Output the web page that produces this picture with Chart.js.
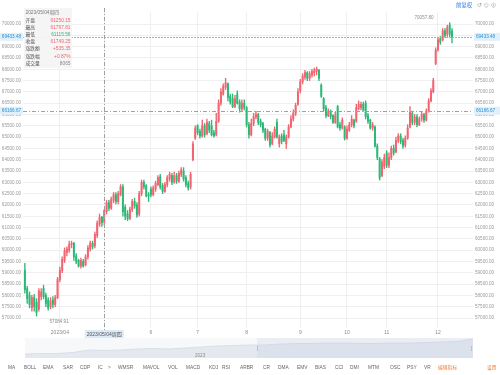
<!DOCTYPE html>
<html lang="zh">
<head>
  <meta charset="UTF-8">
  <title>K线图</title>
  <script src="https://cdn.jsdelivr.net/npm/chart.js"></script>
  <style>
    body { margin: 0; background: #fff; }
    #wrap { position: relative; width: 500px; height: 375px; overflow: hidden; background: #fff;
            font-family: 'Liberation Sans', 'Noto Sans CJK SC', sans-serif; }
    #kline { position: absolute; left: 0; top: 0; }
    #nav { position: absolute; left: 25px; top: 338px; }
    #tip { position: absolute; left: 24px; top: 8px; width: 48px; height: 60px; box-sizing: border-box;
           padding-top: 1.4px; background: rgba(244,244,244,0.95); }
    #tip .row { display: flex; justify-content: space-between; height: 7.2px; line-height: 7.2px;
                font-size: 4.8px; padding: 0 1.5px; white-space: nowrap; color: #555; overflow: hidden; }
    .tb { position: absolute; top: 2px; line-height: 7px; white-space: nowrap; }
    .ind { position: absolute; top: 365px; font-size: 4.8px; line-height: 6px; color: #666; white-space: nowrap; }
  </style>
</head>
<body>
<div id="wrap">
  <canvas id="kline" width="500" height="375"></canvas>
  <canvas id="nav" width="448" height="20"></canvas>
  <div id="tip"></div>
  <div class="tb" style="left:456px;font-size:5.4px;color:#2d7be5">前复权</div>
  <div class="tb" style="left:477px;font-size:5.6px;color:#a0a0a0;letter-spacing:1.6px">↺⊖⊕</div>
  <div id="ind"></div>
</div>
<script>
  // daily candles, 2023/03/13 .. 2023/12/11 (trading days)
  const open = [
    59100, 58300, 58000, 57450, 57900, 57700, 57400, 57950, 58300, 58000,
    57800, 57500, 57800, 57600, 57900, 58700, 59100, 59550, 59900, 60000,
    60250, 60300, 59750, 59550, 59300, 59500, 59350, 59700, 60050, 60300,
    60200, 60650, 61150, 61450, 61250.15, 61700, 62100, 61850, 62200, 62450,
    62150, 62450, 62800, 61900, 61600, 61400, 61800, 62150, 62000, 61600,
    62500, 63000, 62850, 62450, 62700, 62450, 62700, 62900, 63250, 62850,
    62600, 62900, 63150, 63300, 63000, 63300, 63050, 63350, 63500, 63200,
    62950, 62800, 64000, 64950, 65500, 65250, 65050, 65500, 65150, 65600,
    65500, 65200, 65100, 65700, 66500, 66900, 67200, 67350, 66800, 66700,
    66350, 66900, 66550, 66250, 66500, 66300, 65550, 65100, 65600, 65900,
    66000, 65700, 65600, 65350, 64950, 65200, 64700, 65000, 65650, 64700,
    65050, 65100, 64700, 65000, 65450, 65800, 66050, 66450, 67050, 67450,
    67650, 67850, 67600, 67750, 67850, 67900, 67950, 67300, 66700, 66300,
    65950, 66150, 65950, 65650, 66350, 65550, 65400, 65450, 64950, 65300,
    65550, 65750, 65700, 66250, 66300, 66450, 66500, 65950, 65750, 65400,
    65450, 64600, 64050, 63300, 63700, 64300, 63750, 64100, 64500, 64350,
    64850, 65050, 64850, 64650, 64950, 65450, 66050, 65650, 65900, 65550,
    65800, 66000, 65750, 66150, 66600, 67000, 68250, 68850, 69350, 69300,
    69700, 69550, 69950, 69700
  ];
  const high = [
    59420, 58400, 58150, 58000, 58050, 57850, 58300, 58300, 58450, 58100,
    57900, 57900, 57950, 58000, 58800, 59250, 59700, 60100, 60150, 60400,
    60400, 60350, 59850, 59600, 59650, 59600, 59800, 60200, 60400, 60400,
    60800, 61300, 61600, 61500, 61797.81, 62200, 62200, 62350, 62550, 62550,
    62600, 62900, 62900, 62000, 61750, 61900, 62250, 62300, 62100, 62600,
    63100, 63100, 62900, 62550, 62800, 62850, 63050, 63300, 63350, 62950,
    63000, 63300, 63450, 63400, 63450, 63400, 63500, 63650, 63650, 63300,
    63050, 63450, 64800, 65500, 65550, 65350, 65750, 65600, 65800, 65700,
    65750, 65300, 66050, 66650, 67150, 67350, 67600, 67400, 66900, 66900,
    66850, 67050, 66650, 66650, 66650, 66350, 65650, 65800, 66050, 66150,
    66050, 65800, 65650, 65400, 65350, 65250, 65200, 65450, 65800, 65100,
    65150, 65300, 65100, 65550, 65950, 66200, 66500, 67150, 67550, 67800,
    67950, 67900, 67900, 68000, 68050, 68100, 68000, 67350, 66750, 66400,
    66250, 66200, 66000, 66100, 66400, 65650, 65850, 65500, 65500, 65650,
    65950, 65800, 66450, 66600, 66550, 66550, 66600, 66050, 65800, 65650,
    65500, 64700, 64100, 64000, 64250, 64400, 64300, 64600, 64650, 65000,
    65150, 65150, 64950, 65050, 65550, 66350, 66150, 66000, 66000, 65900,
    66100, 66050, 66250, 66700, 67150, 67600, 68950, 69400, 69450, 69800,
    69800, 69950, 70057.80, 69800
  ];
  const low = [
    58100, 57650, 57450, 57300, 57300, 57084.91, 57300, 57800, 57850, 57500,
    57350, 57400, 57450, 57500, 57850, 58600, 59000, 59450, 59750, 59900,
    60100, 59550, 59400, 59250, 59200, 59250, 59300, 59600, 59950, 60050,
    60100, 60550, 61050, 61050, 61115.56, 61600, 61750, 61800, 62100, 62050,
    62050, 62400, 61500, 61350, 61300, 61350, 61700, 61850, 61450, 61500,
    62400, 62700, 62350, 62150, 62350, 62400, 62600, 62850, 62700, 62500,
    62550, 62800, 63050, 62900, 62950, 62950, 63000, 63250, 63050, 62800,
    62650, 62700, 63950, 64900, 65100, 64950, 65000, 65000, 65100, 65200,
    65050, 65000, 65050, 65650, 66400, 66850, 67100, 66600, 66450, 66300,
    66300, 66450, 66100, 66150, 66200, 65450, 64950, 65050, 65500, 65800,
    65550, 65450, 65200, 64850, 64850, 64550, 64650, 64950, 64950, 64550,
    64700, 64800, 64500, 64950, 65400, 65700, 65950, 66400, 66950, 67350,
    67550, 67500, 67500, 67650, 67700, 67750, 67500, 66750, 66150, 65850,
    65900, 65800, 65600, 65600, 65400, 65300, 65350, 64870, 64900, 65250,
    65450, 65400, 65650, 66200, 66200, 66150, 65800, 65600, 65350, 65300,
    64550, 64000, 63100, 63250, 63600, 63650, 63650, 64000, 64200, 64300,
    64750, 64700, 64500, 64550, 64900, 65400, 65550, 65550, 65450, 65500,
    65700, 65650, 65700, 66100, 66550, 66950, 68200, 68800, 69100, 69250,
    69400, 69450, 69450, 69160
  ];
  const close = [
    58250, 57850, 57600, 57900, 57500, 57250, 58200, 58150, 57950, 57650,
    57450, 57750, 57600, 57900, 58700, 59100, 59600, 59950, 60050, 60250,
    60300, 59700, 59500, 59300, 59550, 59300, 59700, 60100, 60300, 60150,
    60700, 61200, 61450, 61213.90, 61749.25, 62100, 61850, 62250, 62450, 62150,
    62500, 62800, 61700, 61500, 61400, 61800, 62150, 61950, 61550, 62500,
    63000, 62800, 62400, 62400, 62450, 62750, 62950, 63200, 62800, 62600,
    62900, 63200, 63350, 63000, 63300, 63050, 63400, 63550, 63150, 62900,
    62750, 63350, 64700, 65400, 65200, 65050, 65500, 65100, 65650, 65300,
    65100, 65050, 65700, 66500, 67000, 67250, 67400, 66750, 66550, 66350,
    66700, 66500, 66250, 66500, 66300, 65550, 65100, 65600, 65900, 66000,
    65650, 65550, 65300, 64950, 65250, 64650, 65050, 65350, 65000, 65000,
    64800, 64850, 65000, 65450, 65800, 66050, 66400, 67000, 67450, 67700,
    67850, 67600, 67800, 67900, 67950, 68000, 67600, 66800, 66250, 65950,
    66150, 65900, 65650, 65950, 65450, 65400, 65750, 64950, 65350, 65550,
    65800, 65500, 66300, 66450, 66450, 66200, 65900, 65700, 65400, 65550,
    64600, 64100, 63200, 63900, 64100, 63750, 64100, 64500, 64300, 64850,
    65050, 64800, 64600, 64950, 65400, 66100, 65650, 65900, 65550, 65800,
    66000, 65750, 66150, 66600, 67050, 67500, 68850, 69300, 69200, 69700,
    69500, 69850, 69550, 69433.48
  ];
  const volumeAtCross = 8065;

  // first trading day of each month, and the axis text
  const monthIdx = [15, 34, 54, 74, 95, 118, 138, 155, 177];
  const monthLabels = ['2023/04', '5', '6', '7', '8', '9', '10', '11', '12'];
  const yTicks = [57000, 57500, 58000, 58500, 59000, 59500, 60000, 60500, 61000, 61500, 62000, 62500, 63000,
                  63500, 64000, 64500, 65000, 65500, 66000, 66500, 67000, 67500, 68000, 68500, 69000, 69500, 70000];

  // crosshair
  const crossIdx = 34;
  const crossDate = '2023/05/04周四';
  const crossPrice = 66166.67;

  // navigator (overview) outline, left to right
  const navValues = [4, 4.5, 4.5, 5.5, 8, 7.5, 8, 9, 9.5, 9, 10, 11, 12, 12.5, 13, 13, 14, 14.5, 14.5, 15,
                     15, 14.5, 14.5, 15, 15, 15.5, 16, 16.5, 19];

  const indicatorNames = ['MA', 'BOLL', 'EMA', 'SAR', 'CDP', 'IC', '>', 'WMSR', 'MAVOL', 'VOL', 'MACD', 'KDJ', 'RSI',
                          'ARBR', 'CR', 'DMA', 'EMV', 'BIAS', 'CCI', 'DMI', 'MTM', 'OSC', 'PSY', 'VR', '编辑指标', '设置'];
  const indicatorX = [8, 24, 43, 63, 80, 98, 108, 118, 143, 168, 186, 209, 222, 240, 263, 278, 297, 315, 335, 350,
                      368, 390, 407, 424, 438, 487];

  const UP = '#F26470';
  const DOWN = '#2DB876';
  const LAST = '#F5A623';
  const FONT = "'Liberation Sans', 'Noto Sans CJK SC', sans-serif";

  const idx = close.map((_, i) => i);
  const candleColor = (c) => close[c.dataIndex] >= open[c.dataIndex] ? UP : DOWN;

  function tag(ctx, text, x, y, w, align) {
    ctx.fillStyle = '#e0f0fa';
    ctx.fillRect(x, y - 4, w, 8);
    ctx.fillStyle = '#2a8fd4';
    ctx.textAlign = align;
    ctx.textBaseline = 'middle';
    ctx.fillText(text, align === 'right' ? x + w - 2 : x + 2, y + 0.3);
  }

  const overlay = {
    id: 'overlay',
    afterDatasetsDraw(chart) {
      const { ctx, chartArea: a, scales: { x, y } } = chart;
      ctx.save();
      ctx.lineWidth = 1;
      ctx.globalAlpha = 1;
      // last price: short orange dashes
      const ly = Math.round(y.getPixelForValue(close[close.length - 1]));
      ctx.fillStyle = LAST;
      for (let px = a.left; px < a.right; px += 3) {
        ctx.fillRect(px, ly, 2, 1);
      }
      // crosshair
      const cx = Math.round(x.getPixelForValue(crossIdx)) + 0.5;
      const cy = Math.round(y.getPixelForValue(crossPrice)) + 0.5;
      ctx.strokeStyle = '#a0a0a0';
      ctx.setLineDash([4, 2, 1, 2]);
      ctx.beginPath(); ctx.moveTo(a.left, cy); ctx.lineTo(a.right, cy); ctx.stroke();
      ctx.beginPath(); ctx.moveTo(cx, a.top - 4); ctx.lineTo(cx, a.bottom + 2); ctx.stroke();
      ctx.restore();
    },
    afterDraw(chart) {
      const { ctx, chartArea: a, scales: { x, y } } = chart;
      ctx.save();
      ctx.font = '4.6px ' + FONT;
      const last = close[close.length - 1];
      const ly = y.getPixelForValue(last);
      tag(ctx, last.toFixed(2), 0, ly, 23, 'right');
      tag(ctx, last.toFixed(2), a.right + 1, ly, 26, 'left');
      const cy = y.getPixelForValue(crossPrice);
      tag(ctx, crossPrice.toFixed(2), 0, cy, 23, 'right');
      tag(ctx, crossPrice.toFixed(2), a.right + 1, cy, 26, 'left');
      // date label under the crosshair
      ctx.font = '5px ' + FONT;
      const cx = x.getPixelForValue(crossIdx);
      const w = ctx.measureText(crossDate).width + 4;
      ctx.fillStyle = '#dce9f6';
      ctx.fillRect(cx - w / 2, a.bottom + 2, w, 8);
      ctx.fillStyle = '#555';
      ctx.textAlign = 'center';
      ctx.textBaseline = 'middle';
      ctx.fillText(crossDate, cx, a.bottom + 6.3);
      // highest / lowest marks
      ctx.font = '4.6px ' + FONT;
      ctx.fillStyle = '#8a8a8a';
      const hi = high.indexOf(Math.max(...high));
      const lo = low.indexOf(Math.min(...low));
      ctx.textAlign = 'right';
      ctx.fillText(high[hi].toFixed(2), x.getPixelForValue(hi) - 16, y.getPixelForValue(high[hi]) - 4.5);
      ctx.textAlign = 'left';
      ctx.fillText(low[lo].toFixed(2), x.getPixelForValue(lo) + 13, y.getPixelForValue(low[lo]) + 6);
      ctx.restore();
    }
  };

  const yAxis = (pos, width, grid) => ({
    type: 'linear',
    position: pos,
    min: 56558,
    max: 70531,
    beginAtZero: false,
    afterFit: (s) => { s.width = width; },
    afterBuildTicks: (s) => { s.ticks = yTicks.map(v => ({ value: v })); },
    grid: { display: grid, color: '#efefef', drawTicks: false },
    border: { display: false },
    ticks: {
      autoSkip: false,
      padding: 2,
      color: '#9a9a9a',
      font: { size: 4.6, family: FONT },
      callback: (v) => v.toFixed(2)
    }
  });

  new Chart(document.getElementById('kline'), {
    type: 'bar',
    data: {
      datasets: [{
        label: 'wick',
        data: idx.map(i => ({ x: i, y: [low[i], high[i]] })),
        backgroundColor: candleColor,
        barThickness: 0.7,
        grouped: false,
        yAxisID: 'y'
      }, {
        label: 'body',
        data: idx.map(i => ({ x: i, y: [open[i], close[i]] })),
        backgroundColor: candleColor,
        barThickness: 1.3,
        minBarLength: 1,
        grouped: false,
        yAxisID: 'y'
      }]
    },
    options: {
      responsive: false,
      animation: false,
      events: [],
      layout: { padding: { top: 12, bottom: 37, left: 0, right: 0 } },
      plugins: { legend: { display: false }, tooltip: { enabled: false } },
      scales: {
        x: {
          type: 'linear',
          min: -0.8,
          max: 192,
          offset: false,
          afterFit: (s) => { s.height = 10; },
          afterBuildTicks: (s) => { s.ticks = monthIdx.map(v => ({ value: v })); },
          grid: { color: '#efefef', drawTicks: false, offset: false },
          border: { display: false },
          ticks: {
            autoSkip: false,
            maxRotation: 0,
            padding: 2,
            color: '#8a8a8a',
            font: { size: 5, family: FONT },
            callback: (v, i) => monthLabels[i]
          }
        },
        y: yAxis('left', 23, true),
        y2: yAxis('right', 27, false)
      }
    },
    plugins: [overlay]
  });

  // overview strip
  const navDeco = {
    id: 'navDeco',
    beforeDraw(chart) {
      const { ctx, width, height } = chart;
      ctx.save();
      ctx.fillStyle = '#f6f8fa';
      ctx.fillRect(0, 0, width, height);
      ctx.restore();
    },
    afterDraw(chart) {
      const { ctx, width, height } = chart;
      ctx.save();
      ctx.fillStyle = 'rgba(190,202,218,0.22)';
      ctx.fillRect(232, 0, width - 232, height);
      ctx.strokeStyle = '#b9c3cf';
      ctx.lineWidth = 1;
      [232.5, width - 1.5].forEach(hx => {
        ctx.beginPath(); ctx.moveTo(hx, 8); ctx.lineTo(hx, 13); ctx.stroke();
      });
      ctx.fillStyle = '#8d8d8d';
      ctx.font = '4.6px ' + FONT;
      ctx.textBaseline = 'middle';
      ctx.fillText('2023', 170, 17.5);
      ctx.restore();
    }
  };

  new Chart(document.getElementById('nav'), {
    type: 'line',
    data: {
      labels: navValues.map((_, i) => i),
      datasets: [{
        data: navValues,
        fill: 'origin',
        borderColor: '#d4dbe4',
        borderWidth: 0.8,
        backgroundColor: '#e4e9f0',
        pointRadius: 0,
        tension: 0
      }]
    },
    options: {
      responsive: false,
      animation: false,
      events: [],
      layout: { padding: 0 },
      plugins: { legend: { display: false }, tooltip: { enabled: false } },
      scales: {
        x: { display: false, offset: false },
        y: { display: false, min: 0, max: 20 }
      }
    },
    plugins: [navDeco]
  });

  // info box for the crosshair day
  const tip = document.getElementById('tip');
  const prev = close[crossIdx - 1];
  const chg = close[crossIdx] - prev;
  const colorOf = (v) => v >= prev ? UP : DOWN;
  const rows = [
    ['开盘', open[crossIdx].toFixed(2), colorOf(open[crossIdx])],
    ['最高', high[crossIdx].toFixed(2), colorOf(high[crossIdx])],
    ['最低', low[crossIdx].toFixed(2), colorOf(low[crossIdx])],
    ['收盘', close[crossIdx].toFixed(2), colorOf(close[crossIdx])],
    ['涨跌额', (chg >= 0 ? '+' : '') + chg.toFixed(2), chg >= 0 ? UP : DOWN],
    ['涨跌幅', (chg >= 0 ? '+' : '') + (chg / prev * 100).toFixed(2) + '%', chg >= 0 ? UP : DOWN],
    ['成交量', String(volumeAtCross), '#888']
  ];
  let html = '<div class="row" style="color:#777">' + crossDate + '</div>';
  rows.forEach(r => {
    html += '<div class="row"><span>' + r[0] + '</span><span style="color:' + r[2] + '">' + r[1] + '</span></div>';
  });
  tip.innerHTML = html;

  // indicator bar
  const ind = document.getElementById('ind');
  indicatorNames.forEach((name, i) => {
    const s = document.createElement('span');
    s.className = 'ind';
    s.style.left = indicatorX[i] + 'px';
    if (i >= indicatorNames.length - 2) s.style.color = '#f07a2c';
    s.textContent = name;
    ind.appendChild(s);
  });
</script>
</body>
</html>
